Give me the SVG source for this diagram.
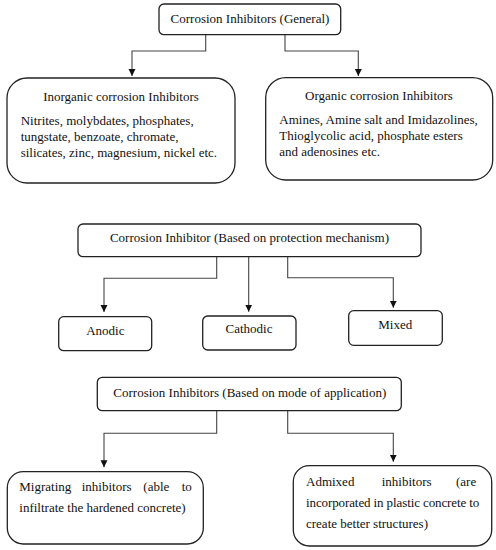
<svg xmlns="http://www.w3.org/2000/svg" width="496" height="550" viewBox="0 0 496 550">
<style>
.box{fill:#fff;stroke:#222;stroke-width:1.3}
.t{font-family:"Liberation Serif","Times New Roman",serif;font-size:13px;fill:#111}
.c{text-anchor:middle}
.ln{fill:none;stroke:#444;stroke-width:1.1}
</style>
<defs>
<marker id="ah" markerWidth="8" markerHeight="8" refX="7" refY="4" orient="auto" markerUnits="userSpaceOnUse">
<path d="M0,0.5 L7,4 L0,7.5 Z" fill="#111"/>
</marker>
</defs>
<rect width="496" height="550" fill="#fff"/>
<g id="connectors">
<path class="ln" d="M205.7,35 V51 H132 V76" marker-end="url(#ah)"/>
<path class="ln" d="M285,35 V51 H358.3 V76" marker-end="url(#ah)"/>
<path class="ln" d="M216.7,256.7 V278.3 H104 V312" marker-end="url(#ah)"/>
<path class="ln" d="M248.7,256.7 V311.7" marker-end="url(#ah)"/>
<path class="ln" d="M287.7,256.7 V277.7 H393.3 V307.7" marker-end="url(#ah)"/>
<path class="ln" d="M216.7,410.7 V433.3 H104 V467.3" marker-end="url(#ah)"/>
<path class="ln" d="M287.7,410.7 V433.3 H393.3 V461.7" marker-end="url(#ah)"/>
</g>
<g id="general">
<rect class="box" x="159" y="4" width="181.7" height="30.7" rx="5"/>
<text class="t c" x="250" y="22.5">Corrosion Inhibitors (General)</text>
</g>
<g id="inorganic">
<rect class="box" x="7" y="78" width="228" height="105" rx="20"/>
<text class="t c" x="121" y="100.5">Inorganic corrosion Inhibitors</text>
<text class="t" x="20.7" y="124.5">Nitrites, molybdates, phosphates,</text>
<text class="t" x="20.7" y="140.8">tungstate, benzoate, chromate,</text>
<text class="t" x="20.7" y="157.2">silicates, zinc, magnesium, nickel etc.</text>
</g>
<g id="organic">
<rect class="box" x="265.7" y="77.7" width="227" height="102.3" rx="20"/>
<text class="t c" x="379" y="99.8">Organic corrosion Inhibitors</text>
<text class="t" x="279.3" y="123.8">Amines, Amine salt and Imidazolines,</text>
<text class="t" x="279.3" y="139.8">Thioglycolic acid, phosphate esters</text>
<text class="t" x="279.3" y="156.2">and adenosines etc.</text>
</g>
<g id="mechanism">
<rect class="box" x="78" y="224" width="343" height="32.7" rx="5"/>
<text class="t c" x="249.5" y="242.2">Corrosion Inhibitor (Based on protection mechanism)</text>
</g>
<g id="anodic">
<rect class="box" x="58.7" y="316.7" width="93" height="34" rx="5"/>
<text class="t c" x="105.3" y="334.5">Anodic</text>
</g>
<g id="cathodic">
<rect class="box" x="202.7" y="316" width="93.3" height="34" rx="5"/>
<text class="t c" x="249" y="333.2">Cathodic</text>
</g>
<g id="mixed">
<rect class="box" x="348.7" y="310.7" width="93.6" height="34.6" rx="5"/>
<text class="t c" x="395.3" y="328.8">Mixed</text>
</g>
<g id="application">
<rect class="box" x="97.3" y="377.3" width="304" height="33.4" rx="5"/>
<text class="t c" x="249.8" y="396.5">Corrosion Inhibitors (Based on mode of application)</text>
</g>
<g id="migrating">
<rect class="box" x="7.3" y="471.7" width="196" height="72.3" rx="16"/>
<text class="t" y="491.2"><tspan x="19.3">Migrating</tspan><tspan x="81.7">inhibitors</tspan><tspan x="143.3">(able</tspan><tspan x="181.7">to</tspan></text>
<text class="t" x="19.3" y="512.2">infiltrate the hardened concrete)</text>
</g>
<g id="admixed">
<rect class="box" x="293.3" y="465.7" width="198.4" height="80.3" rx="16"/>
<text class="t" y="485.5"><tspan x="306">Admixed</tspan><tspan x="381.7">inhibitors</tspan><tspan x="456">(are</tspan></text>
<text class="t" x="306" y="507.2" textLength="173.3" lengthAdjust="spacing">incorporated in plastic concrete to</text>
<text class="t" x="306" y="527.8">create better structures)</text>
</g>
</svg>
